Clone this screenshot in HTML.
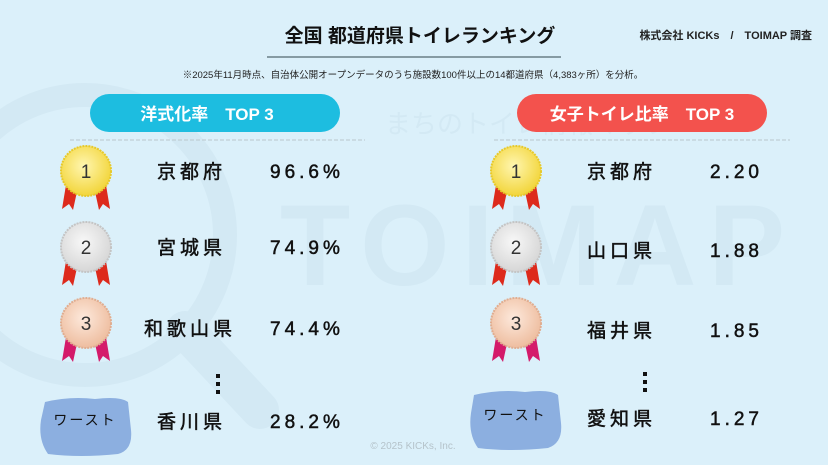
<!DOCTYPE html>
<html><head><meta charset="utf-8"><style>
html,body{margin:0;padding:0;background:#dbf0fa;}
svg{display:block}
text{font-family:"Liberation Sans","Noto Sans CJK JP",sans-serif;}
</style></head><body>
<svg width="828" height="465" viewBox="0 0 828 465" xmlns="http://www.w3.org/2000/svg">
<defs>
<radialGradient id="g1" cx="45%" cy="40%" r="60%"><stop offset="0" stop-color="#fff6b0"/><stop offset="1" stop-color="#f2d53a"/></radialGradient>
<radialGradient id="g2" cx="45%" cy="40%" r="60%"><stop offset="0" stop-color="#f8f8f8"/><stop offset="1" stop-color="#d6d6d6"/></radialGradient>
<radialGradient id="g3" cx="45%" cy="40%" r="60%"><stop offset="0" stop-color="#fde9dc"/><stop offset="1" stop-color="#eebd9f"/></radialGradient>
<g id="rib1"><polygon points="-20,14 -8,16 -13,39 -17,33 -24,38" fill="#dd2a1c"/><polygon points="20,14 8,16 13,39 17,33 24,38" fill="#dd2a1c"/></g>
<g id="rib3"><polygon points="-20,14 -8,16 -13,39 -17,33 -24,38" fill="#d41a6a"/><polygon points="20,14 8,16 13,39 17,33 24,38" fill="#d41a6a"/></g>
</defs>
<rect width="828" height="465" fill="#dbf0fa"/>
<!-- watermark -->
<circle cx="85" cy="235" r="140" fill="none" stroke="#d3e9f4" stroke-width="24"/>
<path d="M185 330 L260 410" stroke="#d3e9f4" stroke-width="38" stroke-linecap="round"/>
<text x="280" y="285" font-size="115" fill="#d3e9f4" font-weight="bold" letter-spacing="12">TOIMAP</text>
<text x="385" y="133" font-size="26" fill="#d3e9f4">まちのトイレ情報マップ</text>
<!-- header -->
<text x="420" y="42" font-size="19" font-weight="bold" text-anchor="middle" fill="#111">全国 都道府県トイレランキング</text>
<line x1="267" y1="57" x2="561" y2="57" stroke="#6a7f86" stroke-width="1.5"/>
<text x="812" y="39" font-size="11" font-weight="bold" text-anchor="end" fill="#222">株式会社 KICKs　/　TOIMAP 調査</text>
<text x="413" y="78" font-size="9.5" text-anchor="middle" fill="#222">※2025年11月時点、自治体公開オープンデータのうち施設数100件以上の14都道府県（4,383ヶ所）を分析。</text>
<!-- pills -->
<rect x="90" y="94" width="250" height="38" rx="19" fill="#1dbde0"/>
<text x="207" y="120" font-size="17" font-weight="bold" fill="#fff" text-anchor="middle">洋式化率　TOP 3</text>
<rect x="517" y="94" width="250" height="38" rx="19" fill="#f3524d"/>
<text x="642" y="120" font-size="17" font-weight="bold" fill="#fff" text-anchor="middle">女子トイレ比率　TOP 3</text>
<line x1="70" y1="140" x2="365" y2="140" stroke="#b9c6cc" stroke-width="1" stroke-dasharray="4,2"/>
<line x1="494" y1="140" x2="790" y2="140" stroke="#b9c6cc" stroke-width="1" stroke-dasharray="4,2"/>
<!-- medals left -->
<g transform="translate(86,171)"><use href="#rib1"/><circle r="25" fill="url(#g1)" stroke="#e7c92a" stroke-width="2" stroke-dasharray="2,1"/><text y="7" font-size="19" text-anchor="middle" fill="#333">1</text></g>
<g transform="translate(86,247)"><use href="#rib1"/><circle r="25" fill="url(#g2)" stroke="#c4c4c4" stroke-width="2" stroke-dasharray="2,1"/><text y="7" font-size="19" text-anchor="middle" fill="#333">2</text></g>
<g transform="translate(86,323)"><use href="#rib3"/><circle r="25" fill="url(#g3)" stroke="#e0ad90" stroke-width="2" stroke-dasharray="2,1"/><text y="7" font-size="19" text-anchor="middle" fill="#333">3</text></g>
<!-- medals right -->
<g transform="translate(516,171)"><use href="#rib1"/><circle r="25" fill="url(#g1)" stroke="#e7c92a" stroke-width="2" stroke-dasharray="2,1"/><text y="7" font-size="19" text-anchor="middle" fill="#333">1</text></g>
<g transform="translate(516,247)"><use href="#rib1"/><circle r="25" fill="url(#g2)" stroke="#c4c4c4" stroke-width="2" stroke-dasharray="2,1"/><text y="7" font-size="19" text-anchor="middle" fill="#333">2</text></g>
<g transform="translate(516,323)"><use href="#rib3"/><circle r="25" fill="url(#g3)" stroke="#e0ad90" stroke-width="2" stroke-dasharray="2,1"/><text y="7" font-size="19" text-anchor="middle" fill="#333">3</text></g>
<!-- text -->
<g font-size="19" fill="#111" stroke="#111" stroke-width="0.5" letter-spacing="4">
<text x="157" y="178">京都府</text><text x="270" y="178">96.6%</text>
<text x="157" y="254">宮城県</text><text x="270" y="254">74.9%</text>
<text x="144" y="335">和歌山県</text><text x="270" y="335">74.4%</text>
<text x="157" y="428">香川県</text><text x="270" y="428">28.2%</text>
<text x="587" y="178">京都府</text><text x="710" y="178">2.20</text>
<text x="587" y="257">山口県</text><text x="710" y="257">1.88</text>
<text x="587" y="337">福井県</text><text x="710" y="337">1.85</text>
<text x="587" y="425">愛知県</text><text x="710" y="425">1.27</text>
</g>
<g fill="#111"><rect x="216" y="374" width="4" height="4"/><rect x="216" y="382" width="4" height="4"/><rect x="216" y="390" width="4" height="4"/>
<rect x="643" y="372" width="4" height="4"/><rect x="643" y="380" width="4" height="4"/><rect x="643" y="388" width="4" height="4"/></g>
<!-- worst blobs -->
<path d="M45 402 Q70 396 95 399 Q120 396 128 402 L131 430 Q133 450 118 454 Q80 458 48 454 Q38 440 41 420 Z" fill="#8cafe0"/>
<text x="85" y="425" font-size="14" text-anchor="middle" fill="#111" letter-spacing="2">ワースト</text>
<path d="M474 395 Q500 389 525 392 Q550 389 558 395 L561 423 Q563 443 548 448 Q510 452 478 448 Q468 434 471 413 Z" fill="#8cafe0"/>
<text x="515" y="420" font-size="14" text-anchor="middle" fill="#111" letter-spacing="2">ワースト</text>
<text x="413" y="449" font-size="10" text-anchor="middle" fill="#b5c3ca">© 2025 KICKs, Inc.</text>
</svg>
</body></html>
